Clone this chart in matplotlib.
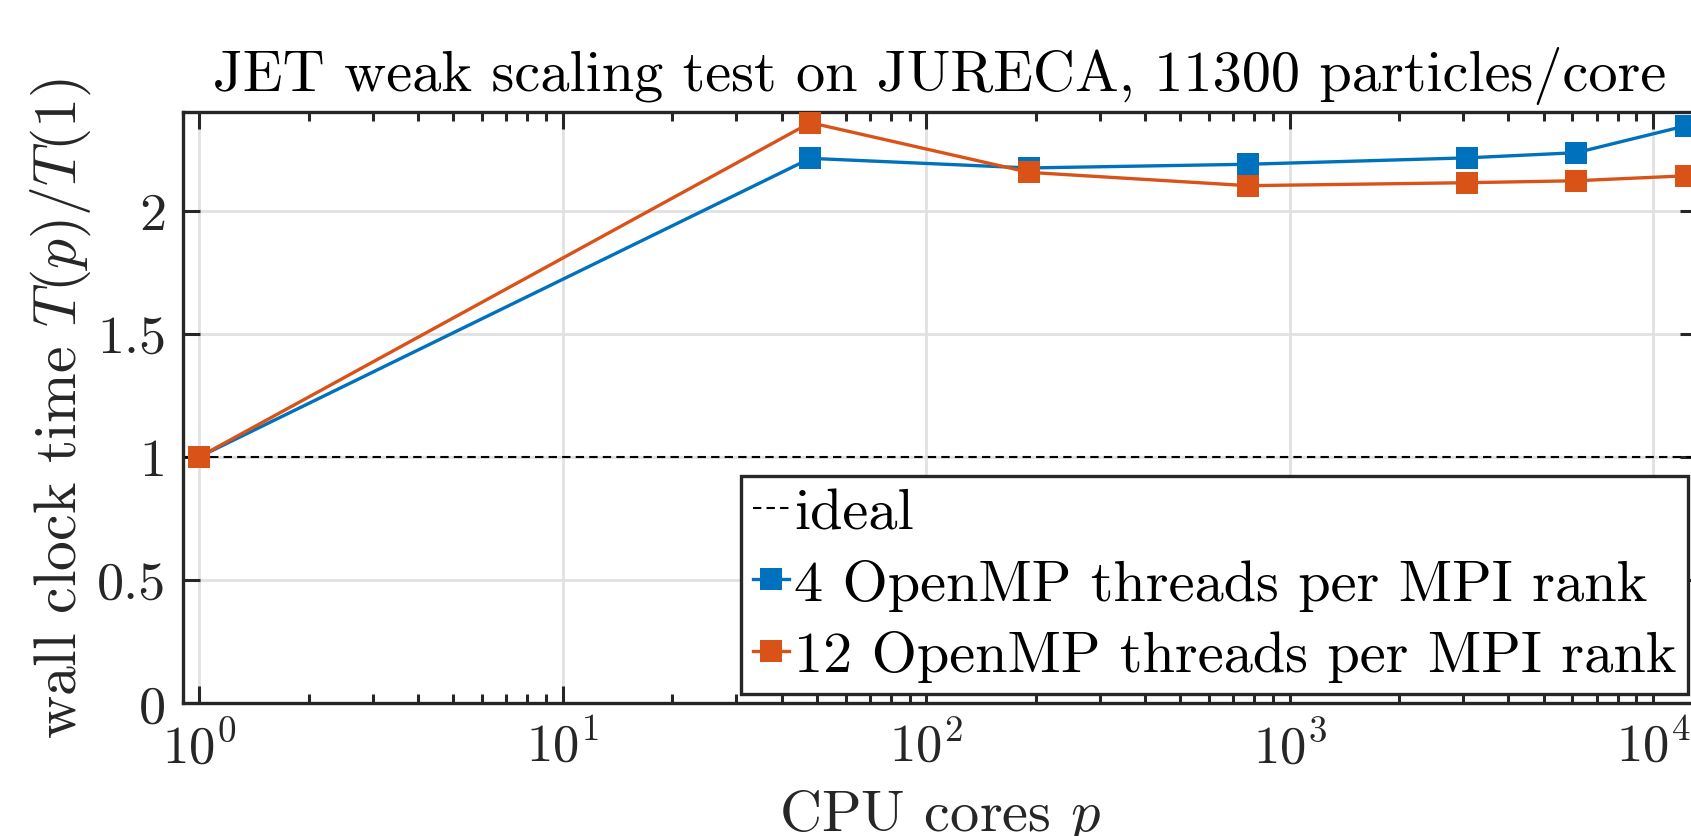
import matplotlib
matplotlib.use("Agg")
import matplotlib.pyplot as plt
from matplotlib.ticker import LogLocator, FixedLocator, FuncFormatter, NullFormatter

# CPU core counts and normalised wall clock times T(p)/T(1)
cores = [1, 48, 192, 768, 3072, 6144, 12288]
t_4threads = [1.0, 2.213, 2.174, 2.189, 2.215, 2.236, 2.345]
t_12threads = [1.0, 2.358, 2.156, 2.102, 2.114, 2.122, 2.142]
ideal = 1.0

y_ticks = [0, 0.5, 1, 1.5, 2]
x_limits = (0.9, 13200)
y_limits = (0, 2.4)

title = "JET weak scaling test on JURECA, 11300 particles/core"
xlabel = "CPU cores $p$"
ylabel = "wall clock time $T(p)/T(1)$"
labels = ["ideal", "4 OpenMP threads per MPI rank", "12 OpenMP threads per MPI rank"]

BLUE = "#0072BD"
ORANGE = "#D95319"
AXC = "#262626"

plt.rcParams["font.family"] = "serif"
plt.rcParams["font.serif"] = ["cmr10"]
plt.rcParams["mathtext.fontset"] = "cm"
plt.rcParams["axes.formatter.use_mathtext"] = True
plt.rcParams["axes.unicode_minus"] = False

fig = plt.figure(figsize=(16.91, 8.37), dpi=100)
ax = fig.add_axes([0.108, 0.1589, 0.8955, 0.7057])

ax.set_xscale("log")
ax.set_xlim(*x_limits)
ax.set_ylim(*y_limits)

# grid (major only)
ax.set_axisbelow(True)
ax.grid(True, which="major", color="#e1e1e1", linewidth=2.0)

h_ideal = ax.axhline(ideal, color="black", linewidth=1.5, linestyle=(0, (4, 2.5)), zorder=2)
h4, = ax.plot(cores, t_4threads, color=BLUE, linewidth=2.4, marker="s",
              markersize=16, markeredgewidth=0, zorder=3)
h12, = ax.plot(cores, t_12threads, color=ORANGE, linewidth=2.4, marker="s",
               markersize=16, markeredgewidth=0, zorder=4)

ax.xaxis.set_major_locator(LogLocator(base=10, numticks=10))
ax.xaxis.set_minor_locator(LogLocator(base=10, subs=range(2, 10), numticks=20))
ax.xaxis.set_minor_formatter(NullFormatter())
ax.yaxis.set_major_locator(FixedLocator(y_ticks))
ax.yaxis.set_major_formatter(FuncFormatter(lambda v, p: "%g" % v))

ax.tick_params(which="both", direction="in", top=True, right=True,
               color=AXC, labelcolor=AXC)
ax.tick_params(axis="y", labelsize=39, pad=12)
ax.tick_params(axis="x", labelsize=38, pad=12)
ax.tick_params(which="major", length=12, width=2.2)
ax.tick_params(which="minor", length=6.5, width=2.2)

for s in ax.spines.values():
    s.set_color(AXC)
    s.set_linewidth(2.4)

ax.set_title(title, fontsize=42, pad=16, color="black")
ax.set_xlabel(xlabel, fontsize=42, labelpad=11, color=AXC)
ax.set_ylabel(ylabel, fontsize=43, labelpad=3, color=AXC)

leg = ax.legend([h_ideal, h4, h12], labels, loc="upper left",
                bbox_to_anchor=(0.4382, 0.4301), bbox_transform=fig.transFigure,
                borderaxespad=0, fontsize=42, handlelength=0.62, handletextpad=0.09,
                borderpad=0.2, labelspacing=0.33, fancybox=False, framealpha=1,
                edgecolor=AXC)
leg.get_frame().set_linewidth(2.4)

fig.savefig("out.png", dpi=100)
